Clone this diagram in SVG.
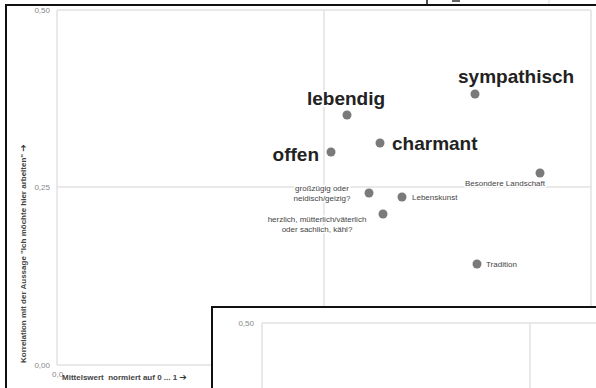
<svg xmlns="http://www.w3.org/2000/svg" width="596" height="388" viewBox="0 0 596 388">
<style>
.grid{stroke:#e2e2e2;stroke-width:1.5;fill:none}
.frame{stroke:#111;stroke-width:2;fill:#fff}
.tick{font-family:"Liberation Sans",Arial,sans-serif;font-size:8px;fill:#888}
.ax{font-family:"Liberation Sans","DejaVu Sans",Arial,sans-serif;font-size:8px;font-weight:bold;fill:#444}
.arr{font-family:"DejaVu Sans",sans-serif;font-size:9px;font-weight:bold;fill:#333}
.dot{fill:#7a7a7a}
.big{font-family:"Liberation Sans",Arial,sans-serif;font-size:19px;font-weight:bold;fill:#222;stroke:#fff;stroke-width:4;paint-order:stroke;stroke-linejoin:round}
.small{font-family:"Liberation Sans",Arial,sans-serif;font-size:8px;fill:#444;stroke:#fff;stroke-width:3;paint-order:stroke;stroke-linejoin:round}
</style>
<rect x="0" y="0" width="596" height="388" fill="#fff"/>
<!-- cropped bits above the frame -->
<line x1="427" y1="0" x2="427" y2="5" stroke="#111" stroke-width="1.5"/>
<rect x="452" y="0" width="8" height="2" fill="#666"/>
<line x1="549" y1="0" x2="549" y2="5" stroke="#ddd" stroke-width="1"/>
<!-- main frame -->
<rect class="frame" x="6" y="5" width="600" height="400"/>
<g id="grid">
<line class="grid" x1="57" y1="10" x2="591" y2="10"/>
<line class="grid" x1="57" y1="187" x2="591" y2="187"/>
<line class="grid" x1="57" y1="365" x2="591" y2="365"/>
<line class="grid" x1="57" y1="10" x2="57" y2="365"/>
<line class="grid" x1="324" y1="10" x2="324" y2="365"/>
<line class="grid" x1="591" y1="10" x2="591" y2="365"/>
</g>
<g id="axes">
<text class="tick" x="50" y="12.5" text-anchor="end">0,50</text>
<text class="tick" x="50" y="190" text-anchor="end">0,25</text>
<text class="tick" x="50" y="368" text-anchor="end">0,00</text>
<text class="tick" x="52" y="377">0,0</text>
<text class="ax" x="62" y="380" xml:space="preserve">Mittelswert  normiert auf 0 ... 1 <tspan class="arr">➔</tspan></text>
<text class="ax" transform="translate(26,363) rotate(-90)">Korrelation mit der Aussage "Ich möchte hier arbeiten" <tspan class="arr">➔</tspan></text>
</g>
<g id="sympathisch"><circle class="dot" cx="475" cy="94" r="4.5"/><text class="big" x="458" y="83">sympathisch</text></g>
<g id="lebendig"><circle class="dot" cx="347" cy="115" r="4.5"/><text class="big" x="307" y="105">lebendig</text></g>
<g id="charmant"><circle class="dot" cx="380" cy="143" r="4.5"/><text class="big" x="392" y="150">charmant</text></g>
<g id="offen"><circle class="dot" cx="331" cy="152" r="4.5"/><text class="big" x="319" y="161" text-anchor="end">offen</text></g>
<g id="landschaft"><circle class="dot" cx="540" cy="173" r="4.5"/><text class="small" x="545" y="186" text-anchor="end">Besondere Landschaft</text></g>
<g id="grosszuegig"><circle class="dot" cx="369" cy="193" r="4.5"/><text class="small" x="322" y="191" text-anchor="middle">großzügig oder</text><text class="small" x="322" y="201" text-anchor="middle">neidisch/geizig?</text></g>
<g id="lebenskunst"><circle class="dot" cx="402" cy="197" r="4.5"/><text class="small" x="412" y="200">Lebenskunst</text></g>
<g id="herzlich"><circle class="dot" cx="383" cy="214" r="4.5"/><text class="small" x="317" y="222" text-anchor="middle">herzlich, mütterlich/väterlich</text><text class="small" x="317" y="232" text-anchor="middle">oder sachlich, kähl?</text></g>
<g id="tradition"><circle class="dot" cx="477" cy="264" r="4.5"/><text class="small" x="486" y="267">Tradition</text></g>
<!-- inset frame -->
<g id="inset">
<rect class="frame" x="212" y="307" width="400" height="100"/>
<line class="grid" x1="262" y1="323" x2="596" y2="323"/>
<line class="grid" x1="262" y1="323" x2="262" y2="388"/>
<line class="grid" x1="530" y1="323" x2="530" y2="388"/>
<text class="tick" x="254" y="326" text-anchor="end">0,50</text>
</g>
</svg>
